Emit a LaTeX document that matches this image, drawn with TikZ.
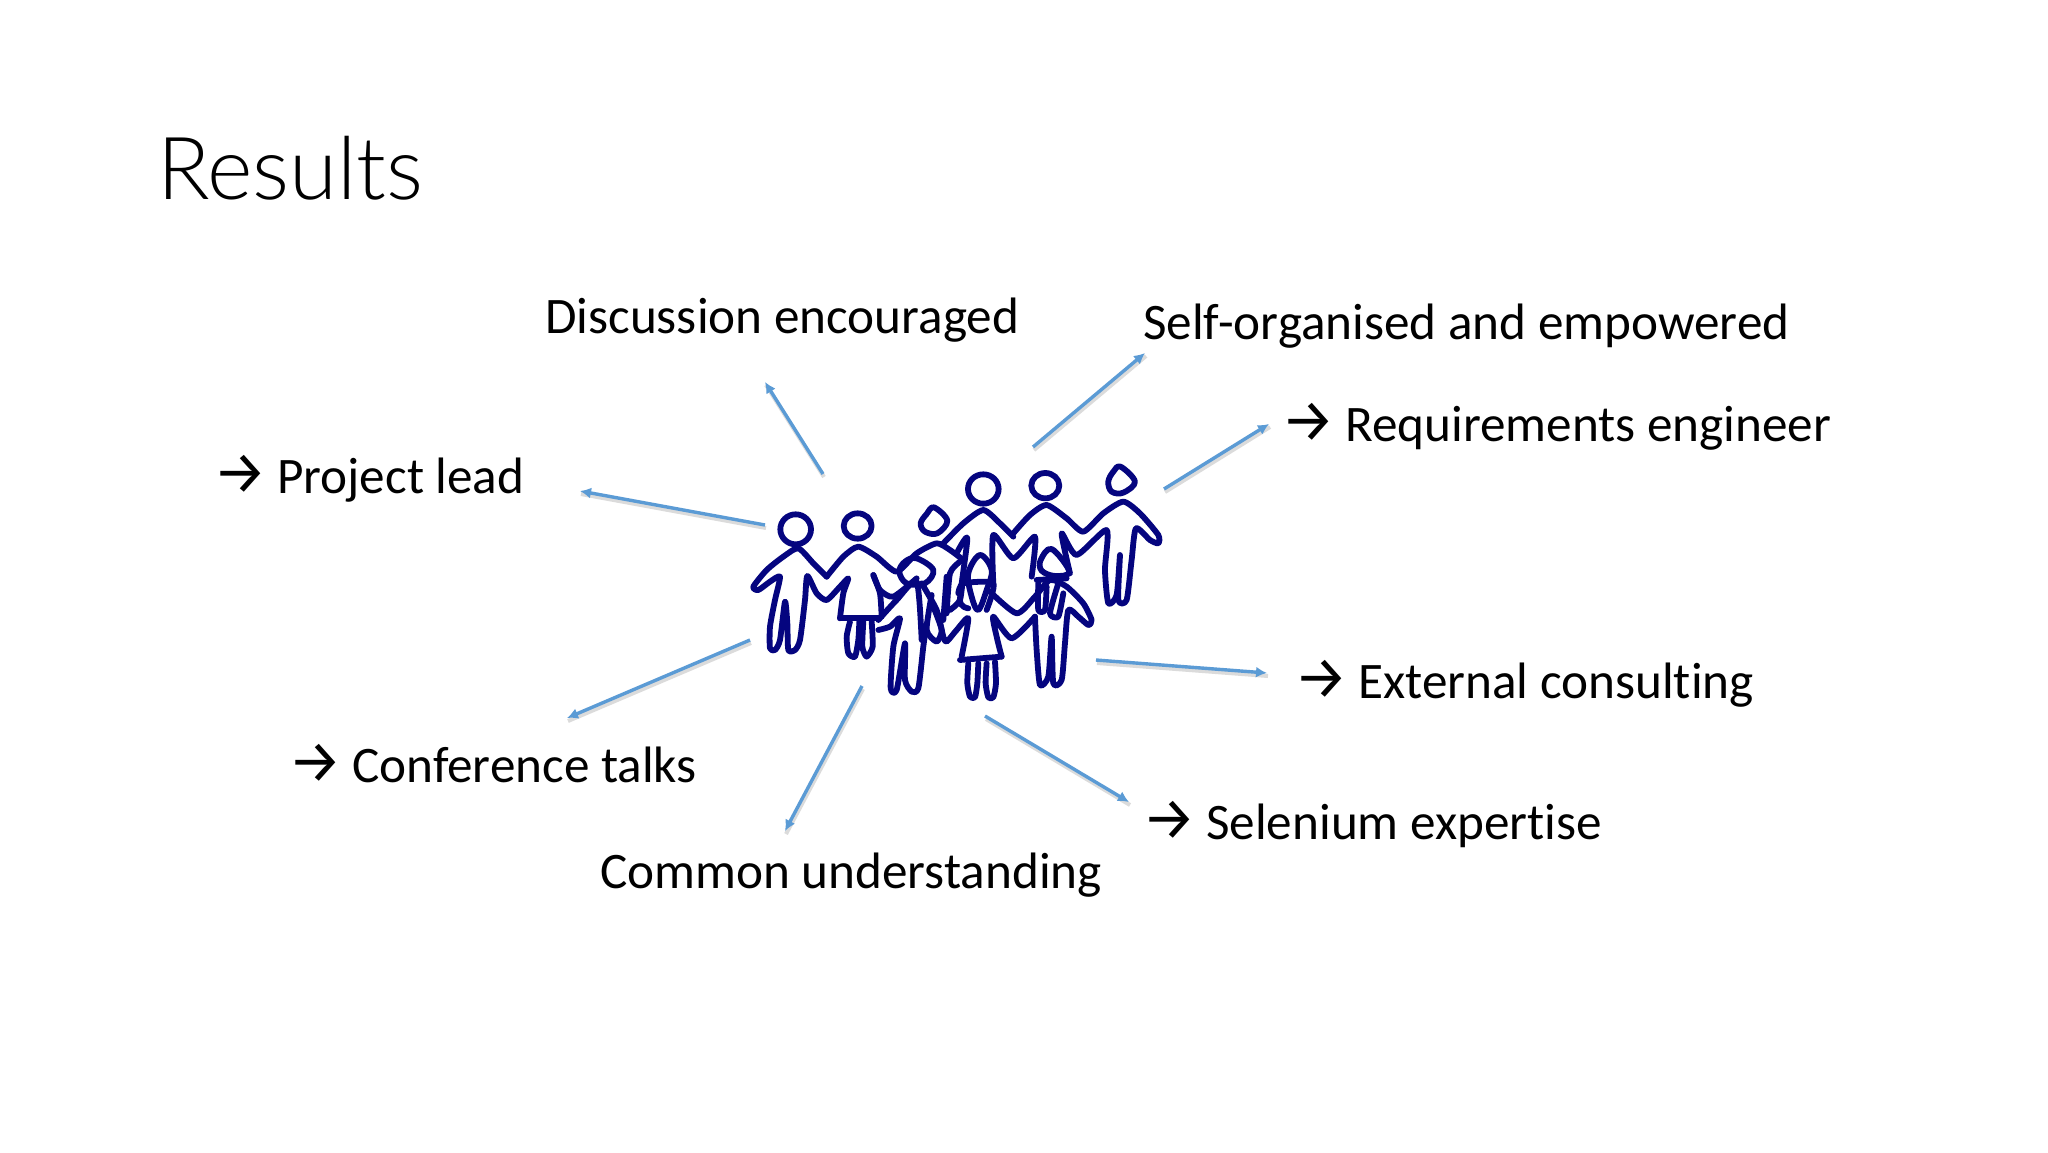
\documentclass[tikz,border=0pt]{standalone}
\usepackage{fontspec}
\usepackage{xcolor}
\usetikzlibrary{arrows.meta}
\setmainfont{Carlito}[Ligatures=CommonOff]
\newfontfamily\arrowfont{Fira Sans}
\newfontfamily\titlefont{Lato Light}[Ligatures=CommonOff]
\definecolor{arrowblue}{HTML}{5B9BD5}
\definecolor{figblue}{HTML}{05057F}
\newcommand{\toarrow}{{\arrowfont\fontsize{60}{60}\selectfont →}\hspace{10pt}}
\tikzset{
  lbl/.style={anchor=base west, inner sep=0pt, font=\fontsize{51.2}{60}\selectfont, text=black},
  res/.style={draw=arrowblue, line width=3.4pt, -{Latex[length=11pt,width=11pt]},
    preaction={draw=black!14, line width=4pt, -, transform canvas={shift={(1pt,-3pt)}}}},
  fig/.style={draw=figblue, line width=5.8pt, line join=round, line cap=round},
}
\begin{document}
\begin{tikzpicture}[x=1pt, y=-1pt]
  \useasboundingbox (0,0) rectangle (2048,1152);
  \fill[white] (0,0) rectangle (2048,1152);

  \node[lbl, font=\titlefont\fontsize{87}{100}\selectfont] (title) at (157,199) {Results};
  \node[lbl] (discussion) at (545,333) {Discussion encouraged};
  \node[lbl] (selforg) at (1143,339) {Self-organised and empowered};
  \node[lbl] (reqeng) at (1281,441) {\toarrow Requirements engineer};
  \node[lbl] (projlead) at (213,493) {\toarrow Project lead};
  \node[lbl] (external) at (1294,698) {\toarrow External consulting};
  \node[lbl] (conftalks) at (288,782) {\toarrow Conference talks};
  \node[lbl] (selenium) at (1142,839) {\toarrow Selenium expertise};
  \node[lbl] (common) at (600,888) {Common understanding};

  \coordinate (discfrom) at (823,474);   \coordinate (discto) at (765,382);
  \coordinate (selffrom) at (1033,447);  \coordinate (selfto) at (1145,353);
  \coordinate (reqfrom) at (1164,489);   \coordinate (reqto) at (1269,424);
  \coordinate (projfrom) at (765,525);   \coordinate (projto) at (580,491);
  \coordinate (extfrom) at (1096,660);   \coordinate (extto) at (1267,673);
  \coordinate (selefrom) at (985,716);   \coordinate (seleto) at (1129,802);
  \coordinate (commfrom) at (862,686);   \coordinate (commto) at (785,831);
  \coordinate (conffrom) at (750,640);   \coordinate (confto) at (567,718);

  \draw[res] (discfrom) -- (discto);
  \draw[res] (selffrom) -- (selfto);
  \draw[res] (reqfrom) -- (reqto);
  \draw[res] (projfrom) -- (projto);
  \draw[res] (extfrom) -- (extto);
  \draw[res] (selefrom) -- (seleto);
  \draw[res] (commfrom) -- (commto);
  \draw[res] (conffrom) -- (confto);

  \begin{scope}[shift={(730,450)}, x=0.3333pt, y=-0.3333pt]
    % heads
    \draw[fig] (197,238) ellipse [x radius=46, y radius=45];
    \draw[fig] (383,228) ellipse [x radius=42, y radius=38];
    \draw[fig] (760,117) ellipse [x radius=46, y radius=44];
    \draw[fig] (946,107) ellipse [x radius=42, y radius=38];
    \draw[fig] plot[smooth cycle, tension=.6] coordinates {(612,172) (652,212) (622,250) (585,245) (572,220) (590,192)};
    \draw[fig] plot[smooth cycle, tension=.6] coordinates {(1172,50) (1215,95) (1180,128) (1145,125) (1135,95) (1150,65)};
    \draw[fig] plot[smooth cycle, tension=.6] coordinates {(965,297) (1018,365) (975,378) (935,362) (932,330)};
    \draw[fig] plot[smooth cycle, tension=.6] coordinates {(560,325) (610,360) (585,400) (530,400) (508,365) (525,335)};
    \draw[fig] plot[smooth cycle, tension=.6] coordinates {(750,315) (785,360) (770,420) (745,480) (725,440) (715,370)};
    % back row
    \draw[fig] plot[smooth, tension=.4] coordinates {(290,380) (250,340) (205,295) (160,320) (110,360) (70,410) (85,420) (120,395) (150,380) (135,450) (120,530) (120,595) (135,600) (150,570) (165,455) (172,520) (175,600) (195,600) (210,570) (225,450) (232,378) (260,430) (290,450) (330,410) (355,385) (340,430) (330,505)};
    \draw[fig] plot[smooth, tension=.4] coordinates {(290,380) (340,320) (385,290) (440,320) (500,365) (560,310) (620,280) (660,300) (700,330)};
    \draw[fig] (330,505) -- (445,505);
    \draw[fig] plot[smooth, tension=.4] coordinates {(360,515) (350,560) (355,610) (375,620) (385,570) (388,515)};
    \draw[fig] plot[smooth, tension=.4] coordinates {(400,515) (397,590) (410,620) (428,590) (425,515)};
    \draw[fig] plot[smooth, tension=.4] coordinates {(455,500) (450,430) (430,375)};
    \draw[fig] plot[smooth, tension=.4] coordinates {(430,375) (450,420) (490,440) (560,385)};
    \draw[fig] plot[smooth, tension=.4] coordinates {(640,280) (700,220) (760,180) (810,220) (850,260)};
    \draw[fig] plot[smooth, tension=.4] coordinates {(850,250) (900,195) (950,165) (1010,205) (1060,245) (1120,190) (1180,155) (1230,190) (1285,255) (1285,280) (1260,270) (1218,235) (1205,330) (1190,450) (1165,450) (1170,315) (1160,435) (1135,460) (1125,360) (1130,240) (1040,315) (995,250) (1020,370)};
    \draw[fig] plot[smooth, tension=.4] coordinates {(790,400) (790,255) (850,325) (915,260) (905,380)};
    \draw[fig] plot[smooth, tension=.4] coordinates {(680,310) (712,265) (690,450) (715,475)};
    \draw[fig] plot[smooth, tension=.4] coordinates {(650,380) (640,510)};
    \draw[fig] plot[smooth, tension=.4] coordinates {(690,335) (660,370) (650,490)};
    \draw[fig] plot[smooth, tension=.4] coordinates {(605,435) (590,540) (620,575) (635,540) (610,470)};
    % front row
    \draw[fig] plot[smooth, tension=.4] coordinates {(445,510) (500,450) (560,395) (575,570)};
    \draw[fig] plot[smooth, tension=.4] coordinates {(445,540) (480,530) (510,505) (490,590) (482,715) (500,720) (525,580) (525,690) (545,725) (565,715) (580,590) (590,520)};
    \draw[fig] plot[smooth, tension=.4] coordinates {(575,400) (620,480) (640,560) (650,575) (680,540) (715,505) (695,620)};
    \draw[fig] (690,630) -- (815,620);
    \draw[fig] plot[smooth, tension=.4] coordinates {(815,620) (800,560) (790,500) (845,565) (915,500)};
    \draw[fig] plot[smooth, tension=.4] coordinates {(715,640) (712,700) (720,740) (735,742) (742,700) (745,640)};
    \draw[fig] plot[smooth, tension=.4] coordinates {(770,640) (767,700) (775,742) (790,742) (798,700) (795,635)};
    \draw[fig] plot[smooth, tension=.4] coordinates {(780,425) (860,490) (915,440) (960,390) (1010,410) (1060,460) (1085,510) (1075,525) (1045,500) (1015,480) (1005,580) (995,690) (970,700) (965,560) (955,680) (930,705) (920,600) (915,500)};
    \draw[fig] plot[smooth, tension=.4] coordinates {(925,400) (925,480) (945,480) (950,410)};
    \draw[fig] plot[smooth, tension=.4] coordinates {(985,400) (960,490) (985,500) (1000,430)};
    \draw[fig] (920,390) -- (1010,385);
    \draw[fig] plot[smooth, tension=.4] coordinates {(685,430) (700,400) (790,400) (770,480)};
    \draw[fig] plot[smooth, tension=.4] coordinates {(700,370) (690,450) (660,480)};
  \end{scope}
\end{tikzpicture}
\end{document}
